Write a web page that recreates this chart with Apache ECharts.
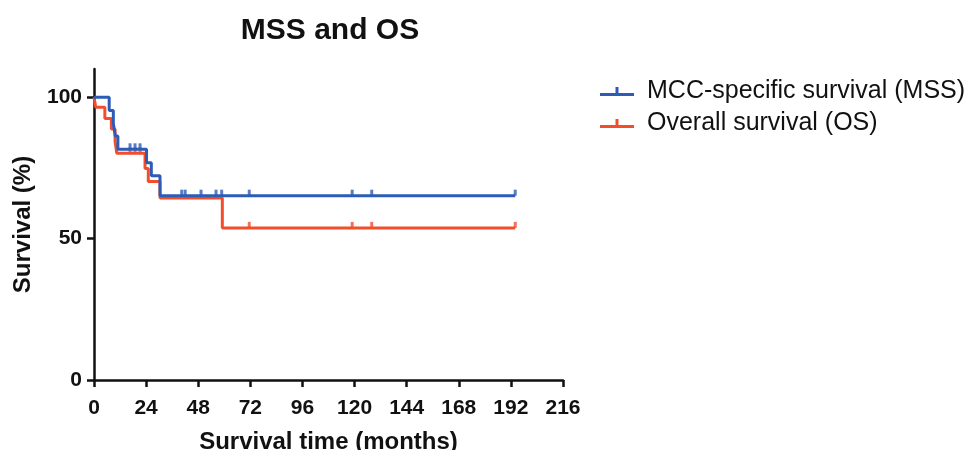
<!DOCTYPE html>
<html>
<head>
<meta charset="utf-8">
<script src="https://cdn.jsdelivr.net/npm/echarts@6/dist/echarts.min.js"></script>
<style>html,body{margin:0;padding:0;background:#fff}#c{width:976px;height:450px}</style>
</head>
<body>
<div id="c"></div>
<script>
// Kaplan-Meier steps: [time (months), survival %]
const mssSteps = [[0,100],[7,95.3],[8.9,90.8],[9.8,86.3],[11,81.6],[24.2,76.8],[26.4,72.2],[30.4,65.2],[194,65.2]];
const osSteps  = [[0,100],[0.8,96.5],[5,92.5],[8,88.8],[9.7,84.4],[10.5,80.2],[23.5,74.8],[25,70.2],[30.4,64.4],[59.1,53.8],[194,53.8]];
// censored observations
const mssCensored = [[16.6,81.6],[18.9,81.6],[21.2,81.6],[40.4,65.2],[42,65.2],[49.3,65.2],[56.2,65.2],[58.8,65.2],[71.5,65.2],[118.9,65.2],[127.9,65.2],[194,65.2]];
const osCensored  = [[16.6,80.2],[18.9,80.2],[21.2,80.2],[71.5,53.8],[118.9,53.8],[127.9,53.8],[194,53.8]];
const xTicks = [0,24,48,72,96,120,144,168,192,216];
const yTicks = [0,50,100];
const seriesNames = ['MCC-specific survival (MSS)','Overall survival (OS)'];

const BLUE = '#2d5cb6', RED = '#f24e2c';
const font = 'Liberation Sans, Arial, Helvetica, sans-serif';
const tickPath = 'path://M0,0 L1,0 L1,1 L0,1 Z';
const legendIcon = 'path://M0,6 L34,6 L34,9 L0,9 Z M15.5,0 L18.5,0 L18.5,6 L15.5,6 Z';

const chart = echarts.init(document.getElementById('c'), null, {renderer:'canvas'});
chart.setOption({
  backgroundColor: '#fff',
  animation: false,
  title: {
    text: 'MSS and OS', left: 325, top: 11, textAlign: 'center',
    textStyle: {fontFamily: font, fontWeight: 'bold', fontSize: 30, color: '#111'}
  },
  legend: {
    orient: 'vertical', left: 595, top: 74, itemWidth: 34, itemHeight: 9, itemGap: 7,
    data: [{name: seriesNames[0], icon: legendIcon}, {name: seriesNames[1], icon: legendIcon}],
    textStyle: {fontFamily: font, fontSize: 25, color: '#111', padding: [0,0,0,8]}
  },
  grid: {left: 94, right: 413, top: 69, bottom: 70, containLabel: false, outerBoundsMode: 'none'},
  xAxis: {
    type: 'value', min: 0, max: 216, interval: 24,
    name: 'Survival time (months)', nameLocation: 'middle', nameGap: 50,
    nameTextStyle: {fontFamily: font, fontWeight: 'bold', fontSize: 24, color: '#111'},
    axisLine: {lineStyle: {color: '#111', width: 2.5}},
    axisTick: {length: 7, lineStyle: {color: '#111', width: 2.5}, customValues: xTicks},
    axisLabel: {fontFamily: font, fontWeight: 'bold', fontSize: 21, color: '#111', margin: 18, customValues: xTicks},
    splitLine: {show: false}
  },
  yAxis: {
    type: 'value', min: 0, max: 110, interval: 50,
    name: 'Survival (%)', nameLocation: 'middle', nameGap: 59,
    nameTextStyle: {fontFamily: font, fontWeight: 'bold', fontSize: 24, color: '#111'},
    axisLine: {show: true, lineStyle: {color: '#111', width: 2.5}},
    axisTick: {show: true, length: 7, lineStyle: {color: '#111', width: 2.5}, customValues: yTicks},
    axisLabel: {fontFamily: font, fontWeight: 'bold', fontSize: 21, color: '#111', margin: 12, customValues: yTicks},
    splitLine: {show: false}
  },
  series: [
    {name: seriesNames[1], type: 'line', step: 'end', data: osSteps, showSymbol: false, z: 2,
     lineStyle: {color: RED, width: 3}, itemStyle: {color: RED}},
    {name: 'OS censored', type: 'scatter', data: osCensored, symbol: tickPath, symbolSize: [3, 6],
     symbolOffset: [0, -3], itemStyle: {color: RED}, z: 2},
    {name: seriesNames[0], type: 'line', step: 'end', data: mssSteps, showSymbol: false, z: 3,
     lineStyle: {color: BLUE, width: 3}, itemStyle: {color: BLUE}},
    {name: 'MSS censored', type: 'scatter', data: mssCensored, symbol: tickPath, symbolSize: [3, 6],
     symbolOffset: [0, -3], itemStyle: {color: BLUE}, z: 3}
  ]
});
</script>
</body>
</html>
